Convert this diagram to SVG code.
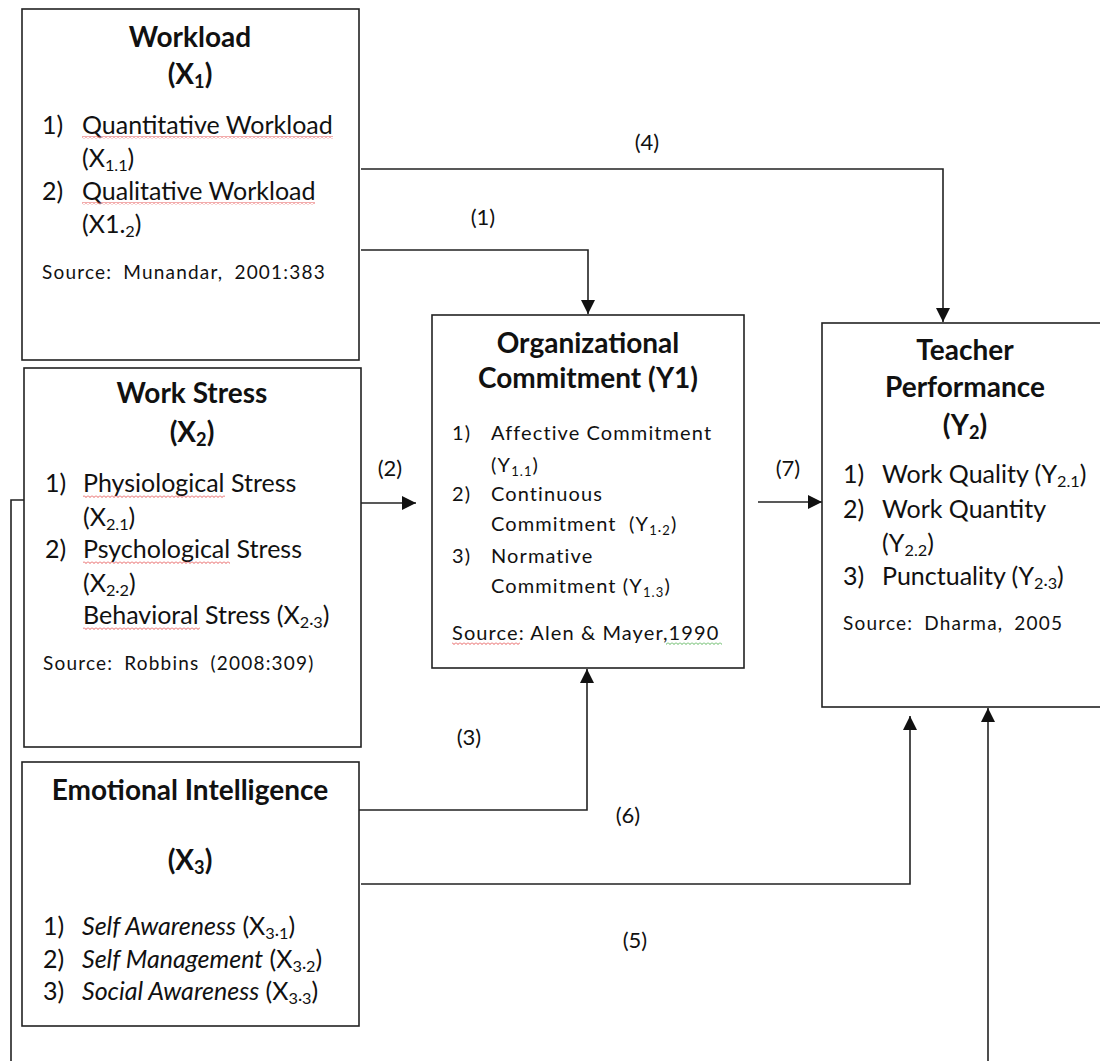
<svg xmlns="http://www.w3.org/2000/svg" width="1100" height="1061" viewBox="0 0 1100 1061">
<style>
  text { font-family: Lato, "Liberation Sans", sans-serif; fill: #111; }
  .box { fill: #fff; stroke: #222; stroke-width: 1.6; }
  .title { font-size: 28px; font-weight: bold; text-anchor: middle; }
  .body { font-size: 25px; }
  .org { font-size: 20px; letter-spacing: 1.1px; }
  .src { font-size: 19px; letter-spacing: 1.2px; word-spacing: 5px; }
  .it { font-style: italic; }
  .lbl { font-size: 22px; text-anchor: middle; }
  .sub { font-size: 65%; }
  .conn { fill: none; stroke: #222; stroke-width: 1.6; }
</style>
<defs>
  <marker id="arr" markerUnits="userSpaceOnUse" markerWidth="14" markerHeight="14" viewBox="0 0 10 10" refX="10" refY="5" orient="auto">
    <path d="M0,0 L10,5 L0,10 z" fill="#111"/>
  </marker>
  <pattern id="wavyR" patternUnits="userSpaceOnUse" width="4" height="3">
    <path d="M0,0.5 L2,2.5 L4,0.5" fill="none" stroke="#e03030" stroke-width="0.8"/>
  </pattern>
  <pattern id="wavyG" patternUnits="userSpaceOnUse" width="4" height="3">
    <path d="M0,0.5 L2,2.5 L4,0.5" fill="none" stroke="#30a030" stroke-width="0.8"/>
  </pattern>
</defs>

<g id="connectors">
  <path class="conn" d="M361,250 H588 V314" marker-end="url(#arr)"/>
  <path class="conn" d="M361,169 H943 V322" marker-end="url(#arr)"/>
  <path class="conn" d="M361,503 H416" marker-end="url(#arr)"/>
  <path class="conn" d="M758,502 H822" marker-end="url(#arr)"/>
  <path class="conn" d="M359,810 H587 V669" marker-end="url(#arr)"/>
  <path class="conn" d="M361,884 H910 V716" marker-end="url(#arr)"/>
  <path class="conn" d="M24,500 H11 V1061"/>
  <path class="conn" d="M988,1061 V708" marker-end="url(#arr)"/>
  <text class="lbl" x="647" y="150">(4)</text>
  <text class="lbl" x="483" y="225">(1)</text>
  <text class="lbl" x="390" y="476">(2)</text>
  <text class="lbl" x="788" y="476">(7)</text>
  <text class="lbl" x="469" y="745">(3)</text>
  <text class="lbl" x="628" y="823">(6)</text>
  <text class="lbl" x="635" y="948">(5)</text>
</g>

<g id="workload">
  <rect class="box" x="22" y="9" width="337" height="351"/>
  <text class="title" x="190" y="47">Workload</text>
  <text class="title" x="190" y="84">(X<tspan class="sub" dy="4">1</tspan><tspan dy="-4">)</tspan></text>
  <text class="body" x="42" y="134">1)</text>
  <text class="body" x="82" y="134">Quantitative Workload</text>
  <rect x="82" y="136" width="251" height="3" fill="url(#wavyR)"/>
  <text class="body" x="82" y="167">(X<tspan class="sub" dy="4">1.1</tspan><tspan dy="-4">)</tspan></text>
  <text class="body" x="42" y="200">2)</text>
  <text class="body" x="82" y="200">Qualitative Workload</text>
  <rect x="82" y="202" width="233" height="3" fill="url(#wavyR)"/>
  <text class="body" x="82" y="233">(X1.<tspan class="sub" dy="4">2</tspan><tspan dy="-4">)</tspan></text>
  <text class="src" x="42" y="279">Source: Munandar, 2001:383</text>
</g>

<g id="workstress">
  <rect class="box" x="24" y="368" width="337" height="379"/>
  <text class="title" x="192" y="403">Work Stress</text>
  <text class="title" x="192" y="442">(X<tspan class="sub" dy="4">2</tspan><tspan dy="-4">)</tspan></text>
  <text class="body" x="45" y="492">1)</text>
  <text class="body" x="83" y="492">Physiological Stress</text>
  <rect x="83" y="495" width="142" height="3" fill="url(#wavyR)"/>
  <text class="body" x="83" y="526">(X<tspan class="sub" dy="4">2.1</tspan><tspan dy="-4">)</tspan></text>
  <text class="body" x="45" y="558">2)</text>
  <text class="body" x="83" y="558">Psychological Stress</text>
  <rect x="83" y="561" width="147" height="3" fill="url(#wavyR)"/>
  <text class="body" x="83" y="592">(X<tspan class="sub" dy="4">2·2</tspan><tspan dy="-4">)</tspan></text>
  <text class="body" x="83" y="624">Behavioral Stress (X<tspan class="sub" dy="4">2·3</tspan><tspan dy="-4">)</tspan></text>
  <rect x="83" y="627" width="117" height="3" fill="url(#wavyR)"/>
  <text class="src" x="43" y="670">Source: Robbins (2008:309)</text>
</g>

<g id="emotional">
  <rect class="box" x="22" y="762" width="337" height="264"/>
  <text class="title" x="190" y="800">Emotional Intelligence</text>
  <text class="title" x="190" y="870">(X<tspan class="sub" dy="4">3</tspan><tspan dy="-4">)</tspan></text>
  <text class="body" x="43" y="935">1)</text>
  <text class="body" x="82" y="935"><tspan class="it">Self Awareness</tspan> (X<tspan class="sub" dy="4">3·1</tspan><tspan dy="-4">)</tspan></text>
  <text class="body" x="43" y="968">2)</text>
  <text class="body" x="82" y="968"><tspan class="it">Self Management</tspan> (X<tspan class="sub" dy="4">3·2</tspan><tspan dy="-4">)</tspan></text>
  <text class="body" x="43" y="1000">3)</text>
  <text class="body" x="82" y="1000"><tspan class="it">Social Awareness</tspan> (X<tspan class="sub" dy="4">3·3</tspan><tspan dy="-4">)</tspan></text>
</g>

<g id="orgcommitment">
  <rect class="box" x="432" y="315" width="312" height="353"/>
  <text class="title" x="588" y="353">Organizational</text>
  <text class="title" x="588" y="388">Commitment (Y1)</text>
  <text class="org" x="452" y="440">1)</text>
  <text class="org" x="491" y="440">Affective Commitment</text>
  <text class="org" x="491" y="472">(Y<tspan class="sub" dy="4">1.1</tspan><tspan dy="-4">)</tspan></text>
  <text class="org" x="452" y="501">2)</text>
  <text class="org" x="491" y="501">Continuous</text>
  <text class="org" x="491" y="531" xml:space="preserve">Commitment  (Y<tspan class="sub" dy="4">1·2</tspan><tspan dy="-4">)</tspan></text>
  <text class="org" x="452" y="563">3)</text>
  <text class="org" x="491" y="563">Normative</text>
  <text class="org" x="491" y="593">Commitment (Y<tspan class="sub" dy="4">1.3</tspan><tspan dy="-4">)</tspan></text>
  <text class="org" x="452" y="640">Source: Alen &amp; Mayer,1990</text>
  <rect x="452" y="642" width="68" height="3" fill="url(#wavyR)"/>
  <rect x="666" y="642" width="56" height="3" fill="url(#wavyG)"/>
</g>

<g id="teacherperformance">
  <rect class="box" x="822" y="323" width="290" height="384"/>
  <text class="title" x="965" y="360">Teacher</text>
  <text class="title" x="965" y="397">Performance</text>
  <text class="title" x="965" y="435">(Y<tspan class="sub" dy="4">2</tspan><tspan dy="-4">)</tspan></text>
  <text class="body" x="843" y="483">1)</text>
  <text class="body" x="882" y="483">Work Quality (Y<tspan class="sub" dy="4">2.1</tspan><tspan dy="-4">)</tspan></text>
  <text class="body" x="843" y="518">2)</text>
  <text class="body" x="882" y="518">Work Quantity</text>
  <text class="body" x="882" y="552">(Y<tspan class="sub" dy="4">2.2</tspan><tspan dy="-4">)</tspan></text>
  <text class="body" x="843" y="585">3)</text>
  <text class="body" x="882" y="585">Punctuality (Y<tspan class="sub" dy="4">2·3</tspan><tspan dy="-4">)</tspan></text>
  <text class="src" x="843" y="630">Source: Dharma, 2005</text>
</g>
</svg>
